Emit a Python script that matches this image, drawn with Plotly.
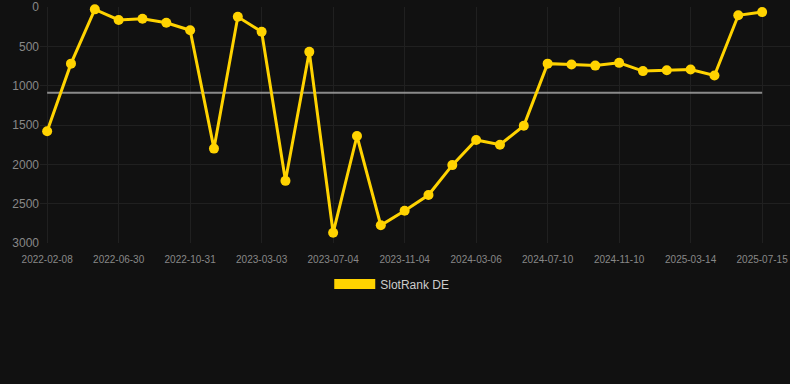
import plotly.graph_objects as go

dates = [
    "2022-02-08", "2022-03-25", "2022-05-12", "2022-06-30", "2022-08-10", "2022-09-20",
    "2022-10-31", "2022-12-11", "2023-01-21", "2023-03-03", "2023-04-13", "2023-05-24",
    "2023-07-04", "2023-08-14", "2023-09-24", "2023-11-04", "2023-12-15", "2024-01-25",
    "2024-03-06", "2024-04-17", "2024-05-29", "2024-07-10", "2024-08-20", "2024-09-30",
    "2024-11-10", "2024-12-21", "2025-01-31", "2025-03-14", "2025-04-24", "2025-06-04",
    "2025-07-15",
]
ranks = [
    1580, 720, 30, 165, 150, 200, 295, 1800, 125, 315, 2210, 570, 2870, 1640, 2775,
    2590, 2390, 2010, 1690, 1750, 1510, 720, 730, 745, 710, 815, 805, 795, 870, 105, 65,
]
tick_labels = dates[::3]
series_name = "SlotRank DE"
mean_rank = sum(ranks) / len(ranks)

GOLD = "#FFD300"
BG = "#111111"

fig = go.Figure()
fig.add_trace(go.Scatter(
    x=[dates[0], dates[-1]], y=[mean_rank, mean_rank], mode="lines",
    line=dict(color="rgba(160,160,160,0.85)", width=2),
    showlegend=False, hoverinfo="skip",
))
fig.add_trace(go.Scatter(
    x=dates, y=ranks, mode="lines+markers", name=series_name,
    line=dict(color=GOLD, width=3),
    marker=dict(color=GOLD, size=10),
    cliponaxis=False, showlegend=False,
))
# legend entry (wide swatch)
fig.add_trace(go.Scatter(
    x=[None], y=[None], mode="lines", name=series_name,
    line=dict(color=GOLD, width=12),
))

fig.update_layout(
    width=790, height=384,
    paper_bgcolor=BG, plot_bgcolor=BG,
    margin=dict(l=40, r=0, t=7, b=141),
    font=dict(family="Liberation Sans, Arial, sans-serif", color="#888888"),
    showlegend=True,
    legend=dict(
        orientation="h", x=0.469, xanchor="center", y=-0.174, yanchor="middle",
        font=dict(size=12, color="#CCCCCC"), bgcolor="rgba(0,0,0,0)",
        itemwidth=41,
    ),
    xaxis=dict(
        type="category", categoryorder="array", categoryarray=dates,
        range=[-0.3, 31.17],
        tickmode="array", tickvals=tick_labels, ticktext=tick_labels,
        showgrid=True, gridcolor="#202020", gridwidth=1,
        tickfont=dict(size=10, color="#888888"),
        ticklabelstandoff=9,
        zeroline=False, showline=False, ticks="", ticklen=0,
    ),
    yaxis=dict(
        range=[3000, 0], tickvals=[0, 500, 1000, 1500, 2000, 2500, 3000],
        showgrid=True, gridcolor="#202020", gridwidth=1,
        tickfont=dict(size=12, color="#888888"),
        zeroline=False, showline=False, ticks="",
    ),
)

fig.write_html("out.html")
